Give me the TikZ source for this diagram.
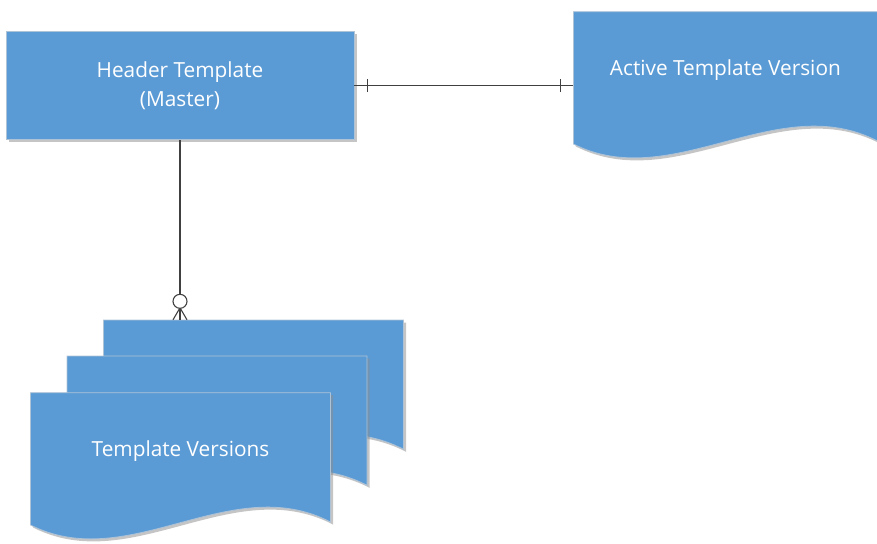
\documentclass[tikz,border=0pt]{standalone}
\usepackage{fontspec}
\setmainfont{Open Sans}
\usetikzlibrary{positioning,backgrounds,shadows,decorations.markings}
\definecolor{docblue}{RGB}{91,155,213}
\definecolor{docedge}{RGB}{175,195,215}
\definecolor{linegray}{RGB}{64,64,64}
\newcommand{\docpath}[1]{(#1.north west) -- (#1.north east) -- ([yshift=-12.3pt]#1.south east) .. controls +(-100pt,52pt) and +(99pt,-50pt) .. ([yshift=-15.3pt]#1.south west) -- cycle}

\begin{document}
\begin{tikzpicture}[
    x=1pt, y=-1pt,
    node distance=219pt,
    font=\fontsize{20.8}{29}\selectfont,
    entity/.style={draw=docedge, line width=0.8pt, fill=docblue, text=white, align=center, minimum width=348pt, minimum height=108pt, inner sep=0pt, drop shadow={shadow xshift=2.5pt, shadow yshift=-2.5pt, fill=black!45, opacity=0.5}},
    docbox/.style={minimum width=300pt, minimum height=117pt, inner sep=0pt, outer sep=0pt, text=white, align=center},
    docfill/.style={draw=docedge, line width=0.8pt, fill=docblue},
    docshadow/.style={fill=black!45, opacity=0.5, transform canvas={shift={(2.5pt,-2.5pt)}}},
    rel/.style={draw=linegray, line width=1.1pt, postaction={decorate}},
    oneone/.style={decoration={markings,
        mark=at position 13pt with {\draw[linegray, line width=1.1pt] (0pt,-6.5pt) -- (0pt,6.5pt);},
        mark=at position -13pt with {\draw[linegray, line width=1.1pt] (0pt,-6.5pt) -- (0pt,6.5pt);}}},
    zeromany/.style={decoration={markings,
        mark=at position 0.999 with {\draw[linegray, line width=1.1pt] (-12pt,0pt) -- (0pt,7pt) (-12pt,0pt) -- (0pt,-7pt);
            \draw[linegray, line width=1.1pt, fill=white] (-18.5pt,0pt) circle[radius=7pt];}}}
]
\useasboundingbox (0,0) rectangle (877,543);
\node[entity] (header) at (180,85.5) {Header Template\\(Master)};
\node[docbox, minimum width=304pt, right=of header, yshift=15.3pt] (active) {Active Template Version};
\node[docbox] (back) at (253.5,378.5) {};
\node[docbox] (middle) at ([shift={(-36.5,36)}]back) {};
\node[docbox] (front) at ([shift={(-36.5,36.7)}]middle) {Template Versions};
\begin{scope}[on background layer]
\foreach \d in {active,back,middle,front} {
    \fill[docshadow] \docpath{\d};
    \filldraw[docfill] \docpath{\d};
}
\end{scope}
\draw[rel, oneone] (header.east) -- (header.east -| active.west);
\draw[rel, zeromany] (header.south) -- (header.south |- back.north);
\end{tikzpicture}
\end{document}
